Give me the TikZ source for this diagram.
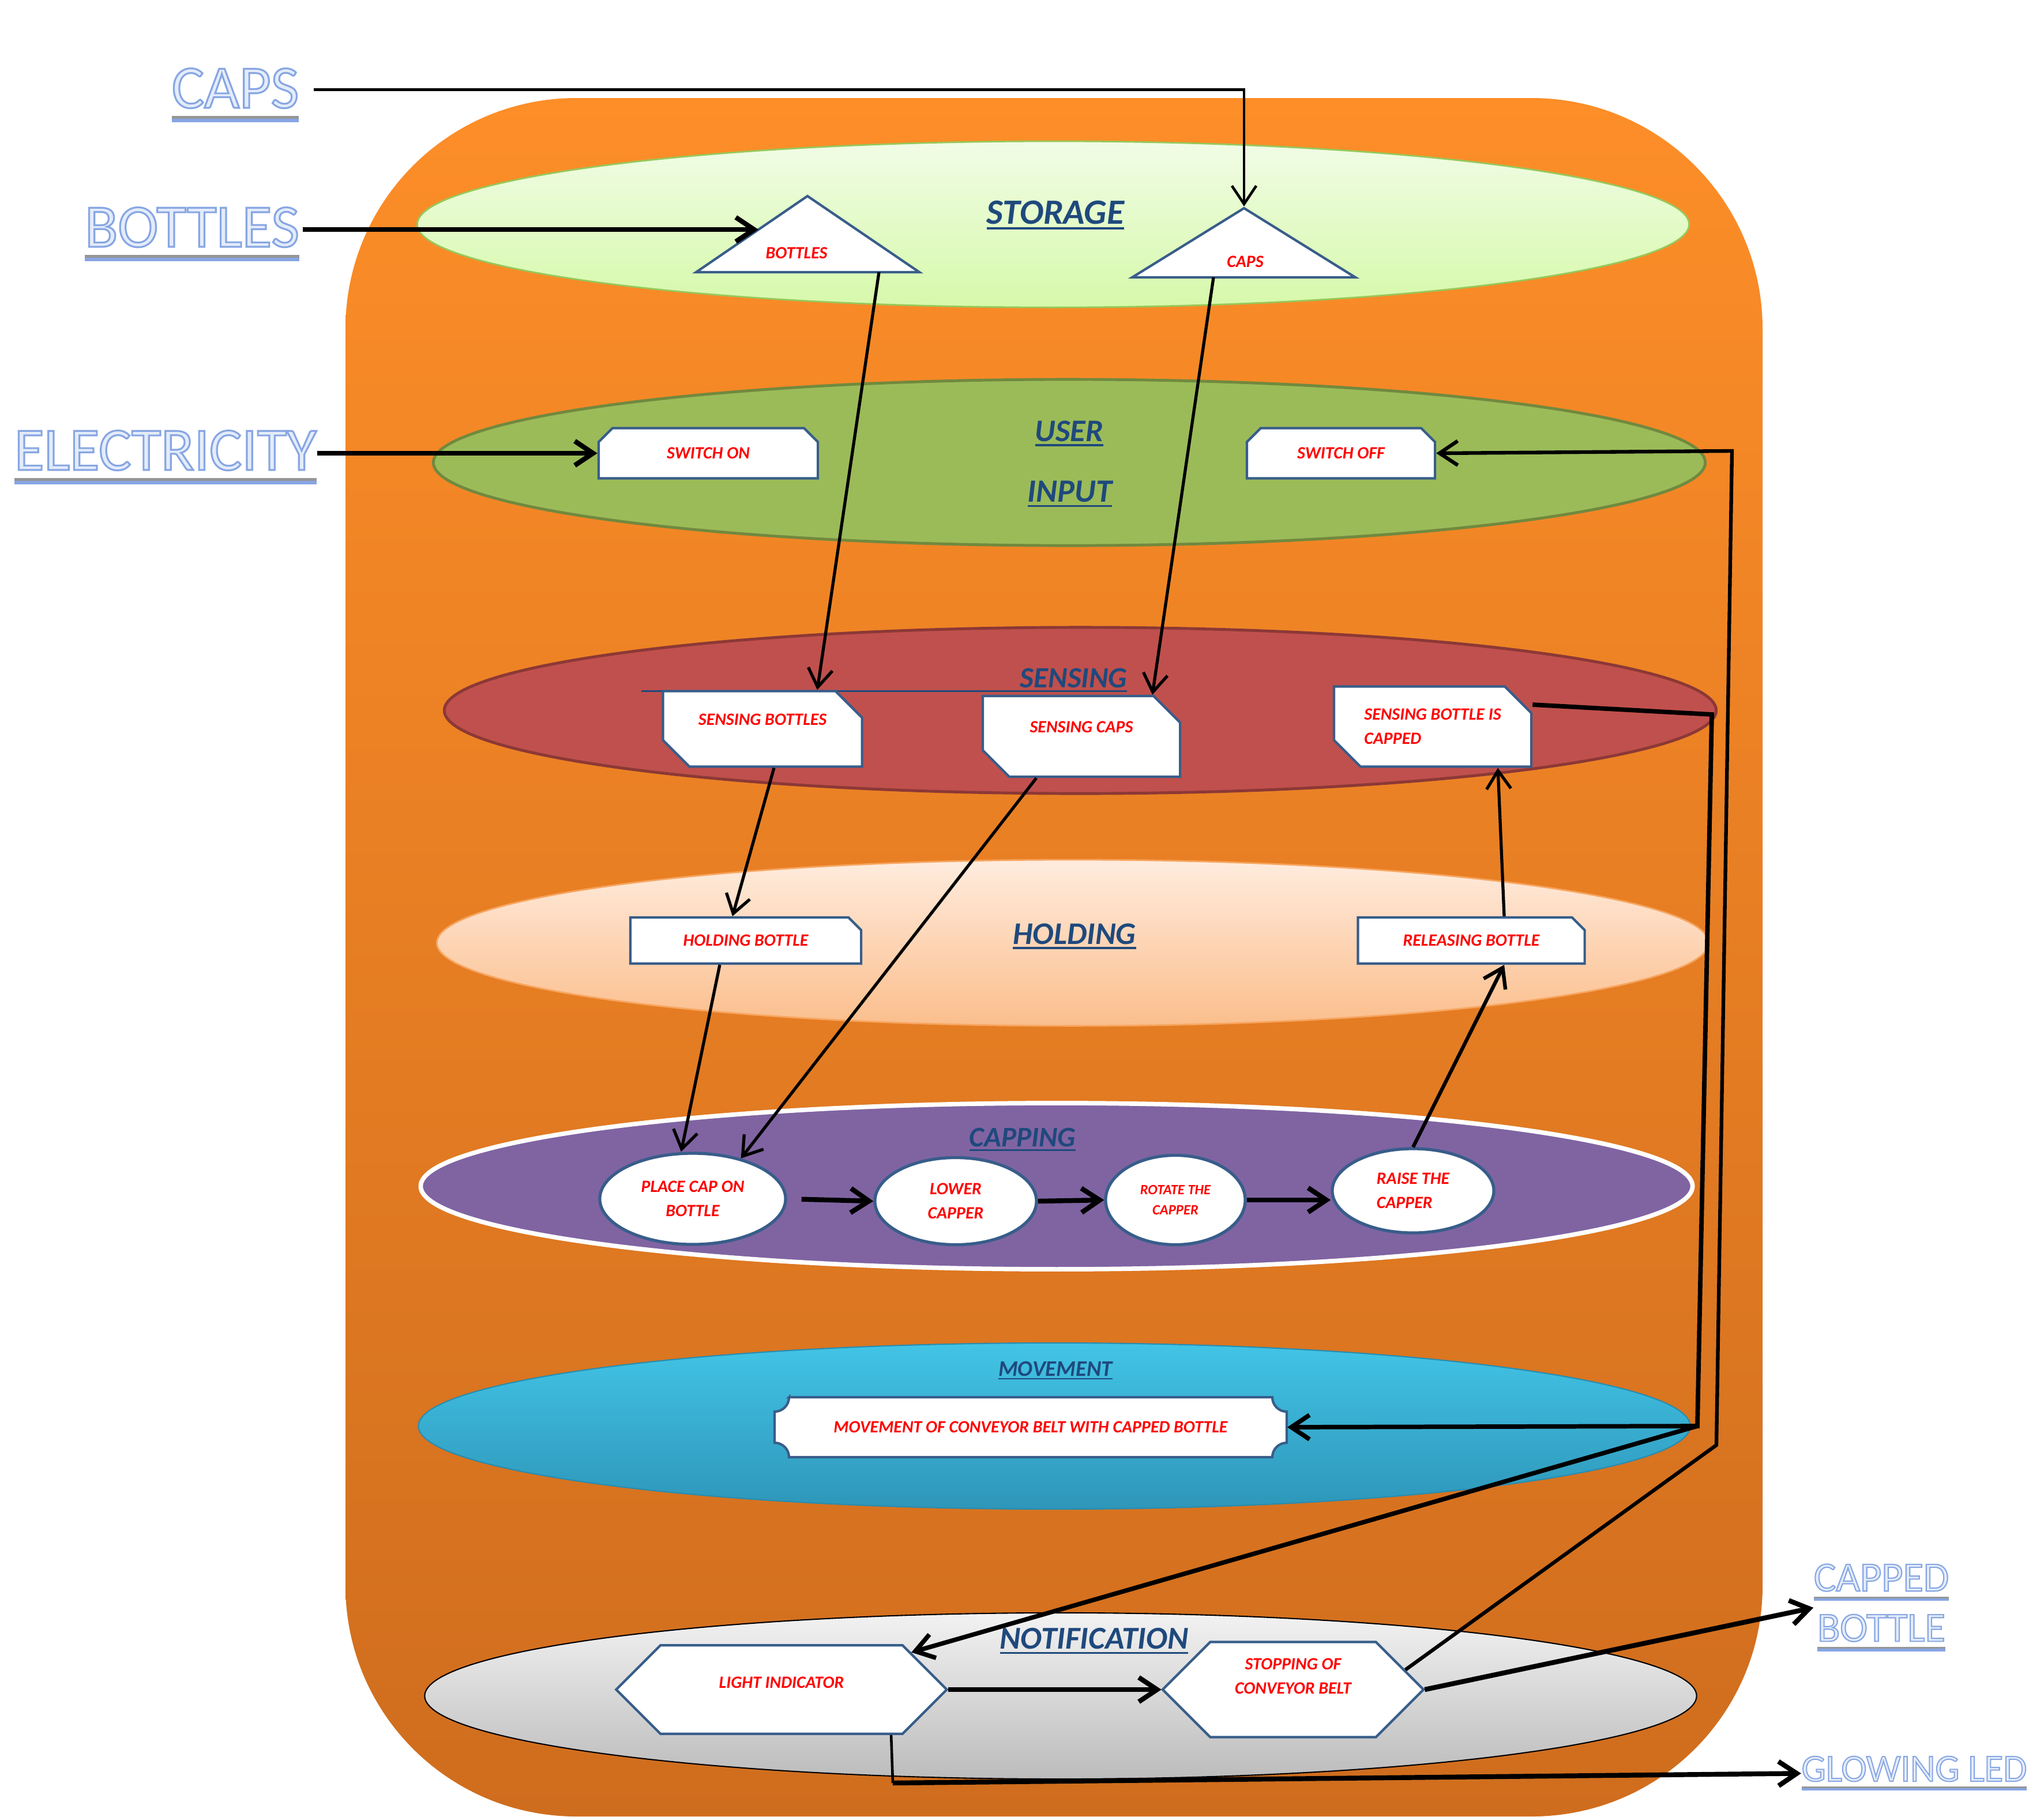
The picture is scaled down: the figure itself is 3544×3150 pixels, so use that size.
\documentclass[tikz,border=0pt]{standalone}
\usepackage{fontspec}
\setmainfont{Carlito}
\newfontfamily\outfont{Carlito}[FakeBold=3]
\usetikzlibrary{shapes.geometric,shapes.misc,arrows.meta}
\definecolor{headblue}{RGB}{31,73,125}
\definecolor{labelred}{RGB}{255,0,0}
\definecolor{boxblue}{RGB}{56,93,138}
\definecolor{orangetop}{RGB}{253,142,40}
\definecolor{orangebot}{RGB}{207,109,30}
\definecolor{storetop}{RGB}{241,252,230}
\definecolor{storebot}{RGB}{214,249,170}
\definecolor{storeline}{RGB}{150,200,90}
\definecolor{userfill}{RGB}{155,187,89}
\definecolor{userline}{RGB}{113,137,62}
\definecolor{sensefill}{RGB}{192,80,77}
\definecolor{senseline}{RGB}{140,56,54}
\definecolor{holdtop}{RGB}{255,236,222}
\definecolor{holdbot}{RGB}{251,190,140}
\definecolor{holdline}{RGB}{247,165,95}
\definecolor{capfill}{RGB}{128,100,162}
\definecolor{movetop}{RGB}{66,196,230}
\definecolor{movebot}{RGB}{46,150,185}
\definecolor{moveline}{RGB}{40,140,175}
\definecolor{notetop}{RGB}{242,242,242}
\definecolor{notebot}{RGB}{188,188,188}
\definecolor{outblue}{RGB}{135,165,228}
\definecolor{outgray}{RGB}{150,150,150}
\newsavebox{\ulbox}
\newcommand{\headul}[1]{\sbox{\ulbox}{#1}\rlap{\vrule height -0.1em depth 0.16em width \wd\ulbox}\usebox{\ulbox}}
\newcommand{\outtext}[1]{{\outfont\special{pdf:bcolor [0.894 0.925 0.98] [0.53 0.65 0.89]}#1\special{pdf:ecolor}}}
\newcommand{\outerul}[1]{\sbox{\ulbox}{\outtext{#1}}\rlap{\textcolor{outgray}{\vrule height -0.13em depth 0.18em width \wd\ulbox}}\rlap{\textcolor{outblue}{\vrule height -0.18em depth 0.24em width \wd\ulbox}}\usebox{\ulbox}}

\begin{document}
\begin{tikzpicture}[x=0.01cm, y=-0.01cm,
  layer/.style={ellipse, inner sep=0pt, minimum width=22.04cm, minimum height=2.88cm},
  heading/.style={font=\fontsize{#1}{#1}\selectfont\bfseries\itshape, text=headblue, inner sep=0pt, anchor=base},
  outer/.style={font=\fontsize{#1}{24.8}\selectfont, inner sep=0pt, anchor=base},
  lbl/.style={font=\fontsize{8.5}{12}\selectfont\bfseries\itshape, text=labelred},
  snipbox/.style={chamfered rectangle, draw=boxblue, fill=white, line width=1.2pt, inner sep=0pt, lbl},
  hexbox/.style={chamfered rectangle, chamfered rectangle xsep=#1, chamfered rectangle ysep=0.745cm, draw=boxblue, fill=white, line width=1.2pt, inner sep=0pt, minimum height=1.51cm, lbl},
  capstep/.style={ellipse, draw=boxblue, fill=white, line width=1.5pt, inner sep=0pt, lbl},
  flow/.style={line width=#1, -{Straight Barb[length=9pt,width=12pt]}}]
\useasboundingbox (0,0) rectangle (3544,3150);
\shade[top color=orangetop, bottom color=orangebot, rounded corners=4cm] (599,170) rectangle (3056,3150);

\node[layer, top color=storetop, bottom color=storebot, draw=storeline, line width=0.8pt] (storage) at (1826,389) {};
\node[layer, fill=userfill, draw=userline, line width=1.4pt] (userin) at (1854,802) {};
\node[layer, fill=sensefill, draw=senseline, line width=1.4pt] (sensing) at (1873,1232) {};
\node[layer, top color=holdtop, bottom color=holdbot, draw=holdline, line width=0.8pt] (holding) at (1860,1635) {};
\node[layer, fill=capfill, draw=white, line width=2.2pt] (capping) at (1832,2057) {};
\node[layer, top color=movetop, bottom color=movebot, draw=moveline, line width=0.6pt] (movement) at (1828,2473) {};
\node[layer, top color=notetop, bottom color=notebot, draw=black, line width=0.6pt] (notify) at (1839,2941) {};

\node[heading=17.5] (storagehd) at (1830,388) {\headul{STORAGE}};
\node[heading=15.5] (userhd) at (1854,765) {\headul{USER}};
\node[heading=16] (inputhd) at (1855,870) {\headul{INPUT}};
\node[heading=14.5, anchor=base east] (sensehd) at (1955,1192) {\headul{\hspace*{6.57cm}SENSING}};
\node[heading=15.5] (holdhd) at (1863,1637) {\headul{HOLDING}};
\node[heading=14] (caphd) at (1773,1988) {\headul{CAPPING}};
\node[heading=11] (movehd) at (1830,2386) {\headul{MOVEMENT}};
\node[heading=15.7] (notehd) at (1897,2859) {\headul{NOTIFICATION}};

\node[outer=30] (capsin) at (408,187) {\outerul{CAPS}};
\node[outer=30] (bottlesin) at (333,428) {\outerul{BOTTLES}};
\node[outer=30] (elecin) at (287,815) {\outerul{ELECTRICITY}};
\node[outer=20.5, anchor=center, align=center] (cappedout) at (3262,2788) {\outerul{CAPPED}\\\outerul{BOTTLE}};
\node[outer=19] (glowout) at (3319,3089) {\outerul{GLOWING LED}};

\filldraw[fill=white, draw=boxblue, line width=1.2pt] (1207,472) -- (1400,340) -- (1594,472) -- cycle;
\node[lbl] (bottlesbin) at (1381,439) {BOTTLES};
\filldraw[fill=white, draw=boxblue, line width=1.2pt] (1963,481) -- (2157,361) -- (2350,481) -- cycle;
\node[lbl] (capsbin) at (2159,454) {CAPS};
\coordinate (bottlestri-in) at (1315,398);
\coordinate (bottlestri-out) at (1524,472);
\coordinate (capstri-top) at (2157,358);
\coordinate (capstri-out) at (2104,481);

\node[snipbox, chamfered rectangle corners={north west,north east}, chamfered rectangle xsep=0.14cm, chamfered rectangle ysep=0.14cm, minimum width=3.8cm, minimum height=0.87cm] (switchon) at (1228,786) {SWITCH ON};
\node[snipbox, chamfered rectangle corners={north west,north east}, chamfered rectangle xsep=0.14cm, chamfered rectangle ysep=0.14cm, minimum width=3.26cm, minimum height=0.87cm] (switchoff) at (2325,786) {SWITCH OFF};

\node[snipbox, chamfered rectangle corners={north east,south west}, chamfered rectangle xsep=0.23cm, chamfered rectangle ysep=0.23cm, minimum width=3.45cm, minimum height=1.31cm, text height=5.5pt, text depth=9.1pt] (sensbot) at (1322,1264) {SENSING BOTTLES};
\node[snipbox, chamfered rectangle corners={north east,south west}, chamfered rectangle xsep=0.23cm, chamfered rectangle ysep=0.23cm, minimum width=3.42cm, minimum height=1.4cm, text height=5.5pt, text depth=9.1pt] (senscap) at (1875,1277) {SENSING CAPS};
\node[snipbox, chamfered rectangle corners={north east,south west}, chamfered rectangle xsep=0.23cm, chamfered rectangle ysep=0.23cm, minimum width=3.42cm, minimum height=1.39cm, align=left] (capdone) at (2484,1260) {SENSING BOTTLE IS\\CAPPED};

\node[snipbox, chamfered rectangle corners={north east}, chamfered rectangle xsep=0.16cm, chamfered rectangle ysep=0.12cm, minimum width=4cm, minimum height=0.8cm] (holdbot) at (1293,1631) {HOLDING BOTTLE};
\node[snipbox, chamfered rectangle corners={north east}, chamfered rectangle xsep=0.16cm, chamfered rectangle ysep=0.12cm, minimum width=3.93cm, minimum height=0.8cm] (release) at (2551,1631) {RELEASING BOTTLE};

\node[capstep, minimum width=3.22cm, minimum height=1.58cm, align=center] (placecap) at (1201,2079) {PLACE CAP ON\\BOTTLE};
\node[capstep, minimum width=2.8cm, minimum height=1.51cm, align=center] (lower) at (1657,2083) {LOWER\\CAPPER};
\node[capstep, minimum width=2.42cm, minimum height=1.55cm, align=center, font=\fontsize{7}{10}\selectfont\bfseries\itshape] (rotate) at (2038,2081) {ROTATE THE\\CAPPER};
\node[capstep, minimum width=2.8cm, minimum height=1.46cm, align=left] (raise) at (2450,2065) {RAISE THE\\CAPPER};

\filldraw[fill=white, draw=boxblue, line width=1.2pt] (1368,2423) -- (2206,2423) arc[start angle=180,end angle=270,radius=0.25cm] -- (2231,2502) arc[start angle=90,end angle=180,radius=0.25cm] -- (1368,2527) arc[start angle=0,end angle=90,radius=0.25cm] -- (1343,2448) arc[start angle=270,end angle=360,radius=0.25cm] -- cycle;
\node[lbl, minimum width=8.88cm, minimum height=1.04cm, inner sep=0pt] (moving) at (1787,2475) {MOVEMENT OF CONVEYOR BELT WITH CAPPED BOTTLE};

\node[hexbox=1.1cm, minimum width=5.73cm, text height=-1.25pt, text depth=1.25pt] (light) at (1355,2930) {LIGHT INDICATOR};
\node[hexbox=0.9cm, minimum width=4.52cm, align=center, text height=4.5pt, text depth=-4.5pt] (stopping) at (2242,2930) {STOPPING OF\\CONVEYOR BELT};

\coordinate (busa) at (2968,1239);
\coordinate (busb) at (2943,2473);
\coordinate (busc) at (3003,782);
\coordinate (busd) at (2976,2506);
\coordinate (ledbend) at (1548,3092);

\draw[flow=1.3pt, shorten <=0.25cm] ([yshift=0.1cm]capsin.east) -| (capstri-top);
\draw[flow=2.4pt, shorten <=0.05cm] (bottlesin.east |- bottlestri-in) -- (bottlestri-in);
\draw[flow=2.4pt] (elecin.east |- switchon.west) -- (switchon.west);
\draw[flow=1.5pt] (bottlestri-out) -- ([xshift=0.95cm]sensbot.north);
\draw[flow=1.5pt] (capstri-out) -- ([xshift=1.23cm]senscap.north);
\draw[flow=1.5pt] ([xshift=0.2cm]sensbot.south) -- ([xshift=-0.23cm]holdbot.north);
\draw[flow=1.5pt] ([xshift=-0.78cm]senscap.south) -- (placecap.40);
\draw[flow=1.5pt] ([xshift=-0.45cm]holdbot.south) -- ([xshift=-0.2cm]placecap.north);
\draw[flow=2.4pt, shorten <=0.25cm] (placecap.east) -- (lower.west);
\draw[flow=2.4pt] (lower.east) -- (rotate.west);
\draw[flow=2.4pt] (rotate.east) -- (rotate.east -| raise.west);
\draw[flow=1.8pt] (raise.north) -- ([xshift=0.57cm]release.south);
\draw[flow=1.5pt] ([xshift=0.57cm]release.north) -- ([xshift=1.13cm]capdone.south);
\draw[flow=2.2pt] ([yshift=0.38cm]capdone.east) -- (busa) -- (busb) -- (moving.east);
\draw[flow=2.2pt] (busb) -- (light.16);
\draw[flow=1.8pt] (stopping.10) -- (busd) -- (busc) -- (switchoff.east);
\draw[flow=2.4pt] (light.east) -- (stopping.west);
\draw[flow=2.4pt] (stopping.east) -- (cappedout.west);
\draw[line width=1.3pt] ([xshift=1.9cm]light.south) -- (ledbend);
\draw[flow=2.4pt] (ledbend) -- (glowout.west);
\end{tikzpicture}
\end{document}
